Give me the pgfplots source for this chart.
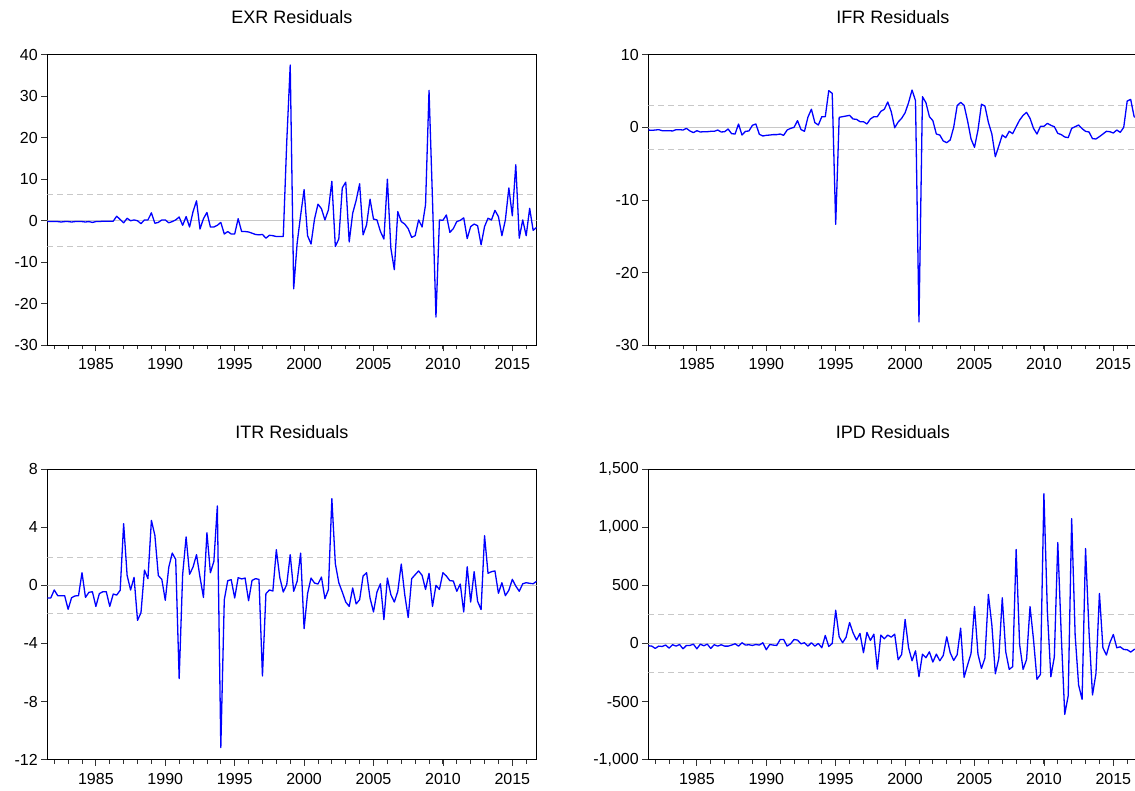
\documentclass[border=0pt]{standalone}
\usepackage{fontspec}
\setmainfont{Liberation Sans}
\usepackage{pgfplots}
\usepackage{pgfplotstable}
\pgfplotsset{compat=1.18}
\definecolor{linblue}{RGB}{0,0,255}
\definecolor{refgray}{RGB}{200,200,200}

\pgfplotstableread{
exr ifr itr ipd
-0.2 -0.37 -0.87 -20
-0.2 -0.41 -0.87 -23
-0.2 -0.37 -0.32 -43
-0.2 -0.32 -0.71 -23
-0.3 -0.46 -0.71 -26
-0.2 -0.46 -0.71 -14
-0.2 -0.46 -1.65 -40
-0.3 -0.50 -0.85 -11
-0.2 -0.32 -0.73 -23
-0.2 -0.32 -0.71 -9
-0.2 -0.37 0.87 -46
-0.3 -0.14 -0.83 -17
-0.2 -0.50 -0.48 -17
-0.4 -0.73 -0.44 -6
-0.2 -0.46 -1.45 -46
-0.2 -0.64 -0.57 -6
-0.1 -0.60 -0.44 -20
-0.1 -0.60 -0.44 -6
-0.1 -0.55 -1.45 -43
-0.1 -0.55 -0.60 -11
1.1 -0.37 -0.67 -23
0.3 -0.64 -0.34 -11
-0.5 -0.60 4.24 -23
0.6 -0.23 0.69 -23
0.0 -0.87 -0.32 -14
0.2 -0.92 0.55 -3
0.0 0.46 -2.41 -23
-0.7 -1.06 -1.88 6
0.2 -0.55 1.05 -14
0.2 -0.50 0.46 -11
1.9 0.28 4.47 -17
-0.6 0.46 3.44 -9
-0.4 -0.96 0.67 -14
0.2 -1.19 0.41 6
0.2 -1.10 -1.03 -54
-0.5 -1.06 1.24 -9
-0.2 -1.00 2.22 -14
0.2 -1.00 1.79 -17
0.9 -0.92 -6.42 34
-1.1 -1.10 0.73 34
1.0 -0.37 3.33 -23
-1.5 -0.14 0.76 -3
2.2 0.00 1.26 34
4.8 0.92 2.11 29
-2.0 -0.30 0.57 -3
0.5 -0.55 -0.83 6
2.0 1.40 3.62 -23
-1.5 2.50 0.87 6
-1.5 0.64 1.65 -23
-1.1 0.32 5.46 0
-0.4 1.47 -11.17 -37
-3.2 1.47 -0.99 69
-2.6 5.05 0.32 -26
-3.2 4.68 0.39 0
-3.2 -13.35 -0.87 286
0.5 1.38 0.53 57
-2.6 1.47 0.44 6
-2.6 1.56 0.50 54
-2.7 1.65 -1.06 180
-3.0 1.15 0.34 92
-3.3 1.10 0.46 29
-3.4 0.78 0.41 86
-3.3 0.78 -6.24 -80
-4.2 0.46 -0.57 95
-3.5 1.15 -0.32 26
-3.6 1.47 -0.39 80
-3.8 1.47 2.45 -221
-3.8 2.20 0.53 72
-3.8 2.48 -0.46 40
19.0 3.49 0.05 72
37.5 2.16 2.11 54
-16.4 -0.05 -0.41 80
-5.4 0.73 0.28 -140
1.3 1.24 2.22 -95
7.5 2.00 -2.98 206
-3.6 3.40 -0.57 -37
-5.6 5.14 0.50 -149
0.4 3.67 0.16 -63
4.0 -26.8 0.09 -286
2.9 4.22 0.57 -92
0.2 3.40 -0.92 -123
2.6 1.47 -0.30 -72
9.5 0.92 5.96 -160
-6.2 -0.92 1.49 -92
-4.4 -1.06 0.18 -149
7.9 -1.88 -0.46 -103
9.3 -2.11 -1.15 57
-5.1 -1.74 -1.45 -80
1.8 0.00 -0.18 -146
4.9 2.98 -1.28 -97
8.9 3.44 -0.99 132
-3.4 3.03 0.64 -292
-1.0 0.90 0.87 -186
5.2 -1.60 -0.87 -86
0.4 -2.75 -1.83 318
0.2 -0.37 -0.46 -92
-2.6 3.17 0.11 -215
-4.4 2.94 -2.36 -126
10.0 0.69 0.50 421
-6.6 -0.92 -0.64 158
-11.8 -4.04 -1.15 -261
2.2 -2.57 -0.41 -129
-0.2 -1.06 1.47 393
-0.8 -1.42 -0.64 -72
-1.9 -0.55 -2.22 -223
-4.0 -0.87 0.46 -200
-3.6 0.09 0.73 808
0.2 1.00 0.99 -9
-1.5 1.65 0.69 -223
3.9 2.06 -0.28 -138
31.4 1.24 0.83 318
5.0 -0.14 -1.45 34
-23.2 -0.92 0.00 -309
0.2 0.14 -0.28 -266
0.1 0.14 0.87 1289
1.4 0.55 0.64 272
-2.8 0.28 0.32 -286
-1.9 0.09 0.30 -117
-0.2 -0.83 -0.41 868
0.1 -1.00 0.09 72
0.7 -1.33 -1.83 -610
-4.3 -1.42 1.28 -450
-1.4 -0.14 -1.15 1074
-0.8 0.09 0.94 72
-1.2 0.32 -1.10 -358
-5.8 -0.18 -1.67 -481
-1.4 -0.55 3.42 817
0.6 -0.64 0.83 100
0.2 -1.56 0.94 -444
2.5 -1.60 0.99 -258
1.0 -1.28 -0.55 430
-3.6 -0.92 0.18 -37
0.2 -0.55 -0.71 -100
7.9 -0.60 -0.34 6
1.2 -0.78 0.41 77
13.5 -0.37 -0.05 -37
-4.2 -0.69 -0.41 -29
0.2 0.00 0.11 -52
-3.6 3.62 0.18 -54
3.0 3.85 0.14 -74
-2.3 1.47 0.11 -52
-1.6 1.20 0.28 -43
}\resid

\pgfplotsset{
  resid/.style={
    scale only axis, width=489.3pt, height=290.6pt,
    xmin=1981.5, xmax=2016.75,
    xtick={1985,1990,1995,2000,2005,2010,2015},
    xticklabels={1985,1990,1995,2000,2005,2010,2015},
    minor xtick={1982,...,2016},
    scaled x ticks=false, scaled y ticks=false,
    tick align=outside,
    xtick pos=bottom, ytick pos=left,
    major tick length=6pt, minor tick length=4pt,
    tick style={black!80, line width=0.8pt},
    axis line style={line width=1pt, black},
    ticklabel style={font=\fontsize{16}{19}\selectfont},
    xticklabel style={yshift=-4pt},
    title style={font=\fontsize{18}{21}\selectfont, anchor=base, at={(0.5,1)}, yshift=25pt},
  },
  refline/.style={refgray, line width=1pt, dash pattern=on 6pt off 4pt, forget plot},
  zeroline/.style={refgray, line width=1.2pt, forget plot},
  resline/.style={linblue, line width=1.3pt, line join=round},
}

\begin{document}
\begin{tikzpicture}
% EXR
\begin{axis}[resid, at={(47.3pt,445.7pt)}, anchor=south west,
  ymin=-30, ymax=40, ytick={-30,-20,-10,0,10,20,30,40},
  yticklabels={-30,-20,-10,0,10,20,30,40},
  title={EXR Residuals}]
  \addplot[zeroline] coordinates {(1981.5,0) (2016.75,0)};
  \addplot[refline] coordinates {(1981.5,6.3) (2016.75,6.3)};
  \addplot[refline] coordinates {(1981.5,-6.3) (2016.75,-6.3)};
  \addplot[resline] table[x expr=1981.5+0.25*\coordindex, y=exr]{\resid};
\end{axis}
% IFR
\begin{axis}[resid, at={(648.3pt,445.7pt)}, anchor=south west,
  ymin=-30, ymax=10, ytick={-30,-20,-10,0,10},
  yticklabels={-30,-20,-10,0,10},
  title={IFR Residuals}]
  \addplot[zeroline] coordinates {(1981.5,0) (2016.75,0)};
  \addplot[refline] coordinates {(1981.5,3.05) (2016.75,3.05)};
  \addplot[refline] coordinates {(1981.5,-3.05) (2016.75,-3.05)};
  \addplot[resline] table[x expr=1981.5+0.25*\coordindex, y=ifr]{\resid};
\end{axis}
% ITR
\begin{axis}[resid, at={(47.3pt,31.3pt)}, anchor=south west,
  ymin=-12, ymax=8, ytick={-12,-8,-4,0,4,8},
  yticklabels={-12,-8,-4,0,4,8},
  title={ITR Residuals}]
  \addplot[zeroline] coordinates {(1981.5,0) (2016.75,0)};
  \addplot[refline] coordinates {(1981.5,1.92) (2016.75,1.92)};
  \addplot[refline] coordinates {(1981.5,-1.92) (2016.75,-1.92)};
  \addplot[resline] table[x expr=1981.5+0.25*\coordindex, y=itr]{\resid};
\end{axis}
% IPD
\begin{axis}[resid, at={(648.3pt,31.3pt)}, anchor=south west,
  ymin=-1000, ymax=1500, ytick={-1000,-500,0,500,1000,1500},
  yticklabels={{-1,000},-500,0,500,{1,000},{1,500}},
  title={IPD Residuals}]
  \addplot[zeroline] coordinates {(1981.5,0) (2016.75,0)};
  \addplot[refline] coordinates {(1981.5,249) (2016.75,249)};
  \addplot[refline] coordinates {(1981.5,-249) (2016.75,-249)};
  \addplot[resline] table[x expr=1981.5+0.25*\coordindex, y=ipd]{\resid};
\end{axis}
\pgfresetboundingbox
\useasboundingbox (0pt,0pt) rectangle (1135pt,791pt);
\end{tikzpicture}
\end{document}
